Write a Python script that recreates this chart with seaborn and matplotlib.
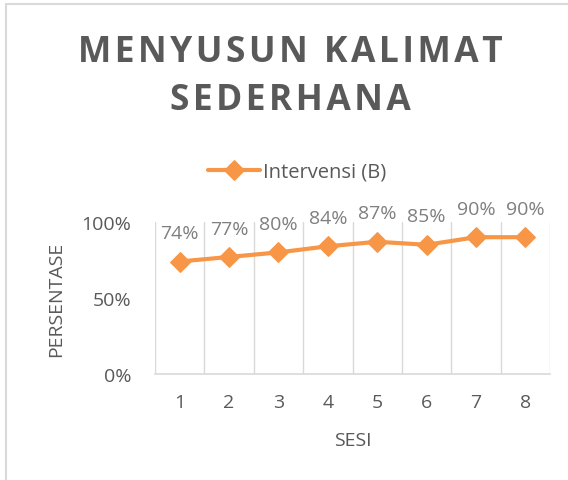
import matplotlib.pyplot as plt
import matplotlib.patches as mpatches
import seaborn as sns
import pandas as pd
from matplotlib.ticker import PercentFormatter, FixedLocator

sesi = [1, 2, 3, 4, 5, 6, 7, 8]
persen = [0.74, 0.77, 0.80, 0.84, 0.87, 0.85, 0.90, 0.90]
series_name = "Intervensi (B)"
title_lines = ["MENYUSUN KALIMAT", "SEDERHANA"]

orange = "#F79646"
dark = "#595959"
grid = "#D9D9D9"

sns.set_theme(style="white")
plt.rcParams['font.family'] = ['Open Sans', 'DejaVu Sans']

df = pd.DataFrame({"SESI": sesi, "PERSENTASE": persen})

fig = plt.figure(figsize=(5.68, 4.81), dpi=100)
ax = fig.add_axes([155 / 568, 1 - 375 / 481, 395 / 568, 152 / 481])

sns.lineplot(data=df, x="SESI", y="PERSENTASE", ax=ax, color=orange,
             linewidth=3, marker="D", markersize=10, markeredgecolor=orange,
             label=series_name)

for x, y in zip(sesi, persen):
    ax.annotate(f"{round(y * 100)}%", (x, y), xytext=(0, 14), textcoords="offset points",
                ha="center", va="bottom", fontsize=14, color="#7F7F7F")

ax.set_xlim(0.5, 8.5)
ax.set_ylim(0, 1)
ax.xaxis.set_major_locator(FixedLocator(sesi))
ax.xaxis.set_minor_locator(FixedLocator([i + 0.5 for i in range(0, 9)]))
ax.yaxis.set_major_locator(FixedLocator([0, 0.5, 1]))
ax.yaxis.set_major_formatter(PercentFormatter(1.0, decimals=0))
ax.grid(which="minor", axis="x", color=grid, linewidth=1)
ax.grid(which="major", visible=False)
for s in ["top", "right", "left"]:
    ax.spines[s].set_visible(False)
ax.spines["bottom"].set_color(grid)
ax.spines["bottom"].set_linewidth(1.2)
ax.tick_params(axis="both", which="both", length=0, labelsize=14, labelcolor=dark)
ax.tick_params(axis="x", pad=14)
ax.tick_params(axis="y", pad=17)
ax.set_xlabel("SESI", fontsize=14, color=dark, labelpad=14)
ax.set_ylabel("PERSENTASE", fontsize=14, color=dark, labelpad=12)

ax.legend(loc="center", bbox_to_anchor=(297 / 568, 1 - 173 / 481),
          bbox_transform=fig.transFigure, frameon=False, fontsize=14.5,
          labelcolor=dark, handlelength=2.6, handletextpad=0.15)

# letter-spaced title, one line per text
for i, line in enumerate(title_lines):
    spaced = "\u200a".join(line)
    fig.text(290 / 568, 1 - (53 + 48 * i) / 481, spaced, ha="center", va="center",
             fontsize=25.5, fontweight="bold", color=dark)

fig.patches.append(mpatches.Rectangle((6 / 568, -0.1), 1.2, 1 - 5 / 481 + 0.1,
                                      transform=fig.transFigure, fill=False,
                                      edgecolor=grid, linewidth=1.5))

fig.savefig("out.png", dpi=100)
